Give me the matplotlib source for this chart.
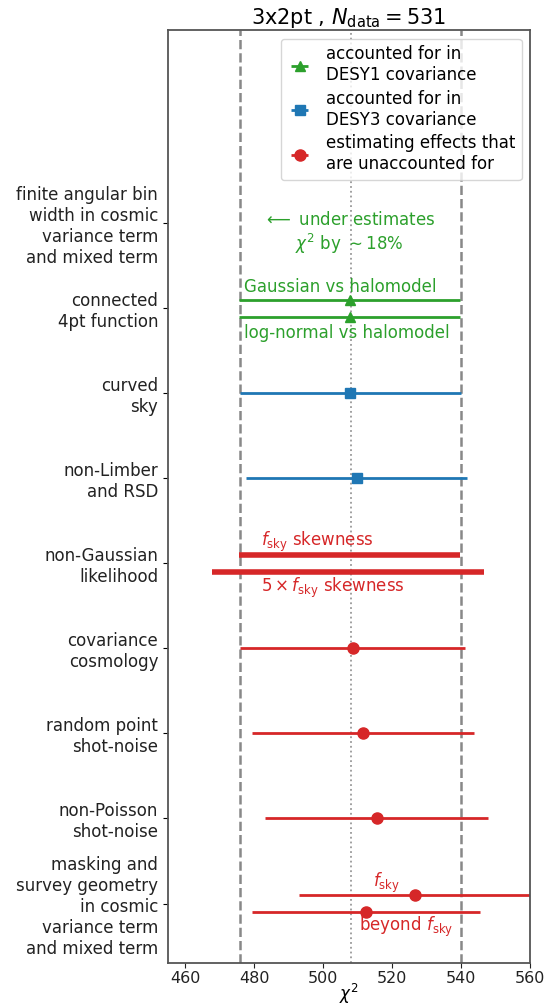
import numpy as np
import matplotlib
matplotlib.use("Agg")
import matplotlib.pyplot as plt

GREEN = '#2ca02c'
BLUE = '#1f77b4'
RED = '#d62728'

# category labels, top to bottom
labels = [
    "finite angular bin\nwidth in cosmic\nvariance term\nand mixed term",
    "connected\n4pt function",
    "curved\nsky",
    "non-Limber\nand RSD",
    "non-Gaussian\nlikelihood",
    "covariance\ncosmology",
    "random point\nshot-noise",
    "non-Poisson\nshot-noise",
    "masking and\nsurvey geometry\nin cosmic\nvariance term\nand mixed term",
]

# chi2 reference values
chi2_expect = 508.0
chi2_sigma = 32.0

# (category index, offset, chi2, half-width)
green_cat = [1, 1]
green_off = [-0.1, 0.1]
green_chi2 = [507.7, 507.7]
green_err = [32.0, 32.0]

blue_cat = [2, 3]
blue_off = [0.0, 0.0]
blue_chi2 = [507.9, 509.8]
blue_err = [32.0, 32.0]

skew_cat = [4, 4]
skew_off = [-0.1, 0.1]
skew_chi2 = [507.6, 507.2]
skew_err = [32.0, 39.4]

red_cat = [5, 6, 7, 8, 8]
red_off = [0.0, 0.0, 0.0, -0.1, 0.1]
red_chi2 = [508.6, 511.6, 515.5, 526.6, 512.5]
red_err = [32.6, 32.1, 32.3, 33.5, 33.0]

fig = plt.figure(figsize=(5.45, 10.06), dpi=100)
ax = fig.add_axes([0.308, 0.0427, 0.6645, 0.9273])

ax.axvline(chi2_expect, color='#999999', ls=':', lw=1.3)
ax.axvline(chi2_expect - chi2_sigma, color='#888888', ls='--', lw=1.8)
ax.axvline(chi2_expect + chi2_sigma, color='#888888', ls='--', lw=1.8)

gy = np.array(green_cat) + np.array(green_off)
ax.errorbar(green_chi2, gy, xerr=green_err, fmt='^', color=GREEN, ms=7, lw=2,
            label='accounted for in\nDESY1 covariance')
by = np.array(blue_cat) + np.array(blue_off)
ax.errorbar(blue_chi2, by, xerr=blue_err, fmt='s', color=BLUE, ms=7, lw=2,
            label='accounted for in\nDESY3 covariance')
sy = np.array(skew_cat) + np.array(skew_off)
ax.errorbar(skew_chi2, sy, xerr=skew_err, fmt='none', ecolor=RED, lw=4)
ry = np.array(red_cat) + np.array(red_off)
ax.errorbar(red_chi2, ry, xerr=red_err, fmt='o', color=RED, ms=8, lw=2,
            label='estimating effects that\nare unaccounted for')

fs = 12
ax.text(507.6, 0.12, "$\\longleftarrow$ under estimates\n$\\chi^2$ by $\\sim 18\\%$",
        color=GREEN, ha='center', va='center', fontsize=fs)
ax.text(477, 0.75, "Gaussian vs halomodel", color=GREEN, va='center', fontsize=fs)
ax.text(477, 1.29, "log-normal vs halomodel", color=GREEN, va='center', fontsize=fs)
ax.text(482, 3.75, "$f_{\\rm sky}$ skewness", color=RED, va='center', fontsize=fs)
ax.text(482, 4.29, "$5\\times f_{\\rm sky}$ skewness", color=RED, va='center', fontsize=fs)
ax.text(514.5, 7.76, "$f_{\\rm sky}$", color=RED, va='center', fontsize=fs)
ax.text(510.4, 8.28, "beyond $f_{\\rm sky}$", color=RED, va='center', fontsize=fs)

ax.set_yticks(range(len(labels)))
ax.set_yticklabels(labels, fontsize=fs, color='#222222')
ax.set_xticks([460, 480, 500, 520, 540, 560])
ax.tick_params(axis='x', labelsize=11.5, colors='#222222', pad=2)
ax.set_xlim(455, 560)
ax.set_ylim(8.7, -2.27)
ax.set_xlabel("$\\chi^2$", fontsize=12, labelpad=-3)
ax.set_title("3x2pt , $N_{\\rm data} = 531$", fontsize=15, pad=3)
for sp in ax.spines.values():
    sp.set_color('#555555')
    sp.set_linewidth(1.3)

ax.legend(loc='upper right', fontsize=fs, handlelength=1.5, borderaxespad=0.5,
          labelspacing=0.35)

fig.savefig("out.png", dpi=100)
